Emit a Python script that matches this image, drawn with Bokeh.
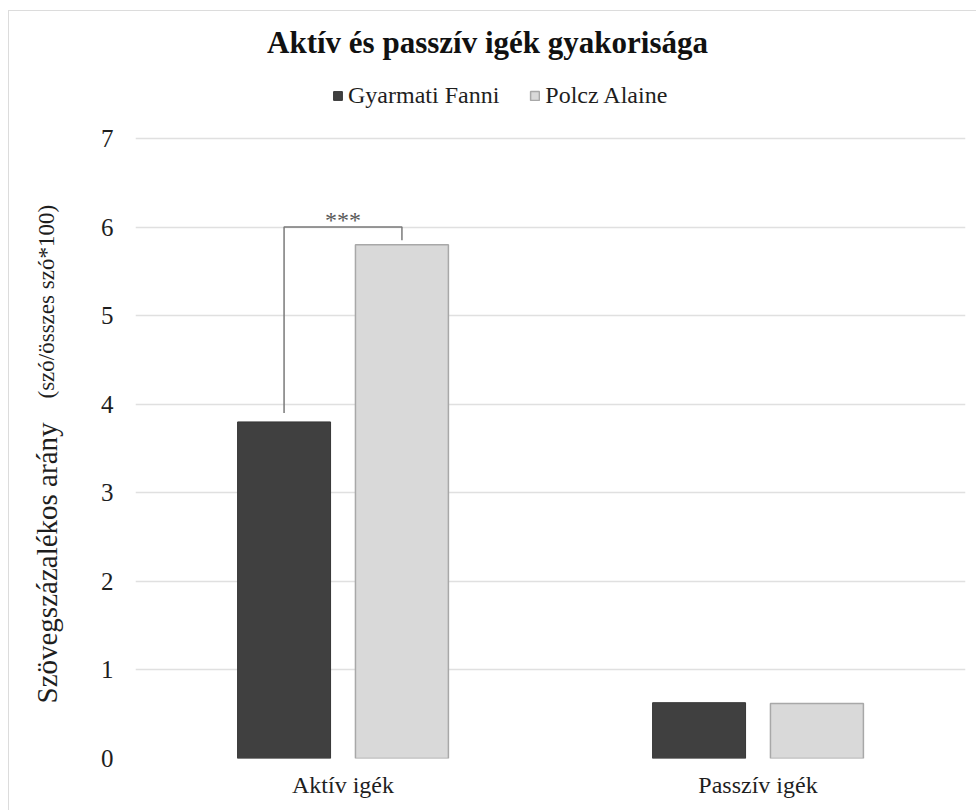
import math
from bokeh.plotting import figure
from bokeh.layouts import column, row
from bokeh.models import (ColumnDataSource, Range1d, FixedTicker, Label, Legend,
                          LegendItem, Div)
from bokeh.embed import file_html
from bokeh.resources import INLINE

# ---- data ----
categories = ["Aktív igék", "Passzív igék"]
series_names = ["Gyarmati Fanni", "Polcz Alaine"]
gyarmati = [3.8, 0.63]
polcz = [5.8, 0.62]
y_ticks = [0, 1, 2, 3, 4, 5, 6, 7]
title_text = "Aktív és passzív igék gyakorisága"
ylabel_main = "Szövegszázalékos arány"
ylabel_sub = "(szó/összes szó*100)"
sig_text = "***"
sig_bottom_left = 3.9
sig_top = 6.0
sig_bottom_right = 5.85

FONT = "Liberation Serif"
DARK = "#404040"
LIGHT = "#d9d9d9"
GRID = "#e0e0e0"
TXT = "#1e1e1e"
BORDER = "#dcdcdc"

cat_pos = [i + 0.5 for i in range(len(categories))]
offset = 0.142
bar_w = 0.224

# geometry (pixels)
MAIN_W, MAIN_H = 880, 799
PX_TOP_TICK = 127           # distance from figure top to the "7" gridline
PX_BOTTOM = 52
frame_h = MAIN_H - PX_BOTTOM
y_top = y_ticks[-1] * frame_h / (frame_h - PX_TOP_TICK)

p = figure(width=MAIN_W, height=MAIN_H, output_backend="svg", toolbar_location=None,
           x_range=Range1d(0, 2), y_range=Range1d(0, y_top),
           min_border_left=39, min_border_right=11, min_border_top=0,
           min_border_bottom=PX_BOTTOM)
p.title = None
p.outline_line_color = None
p.background_fill_color = "white"
p.border_fill_color = "white"

src_g = ColumnDataSource(dict(x=[c - offset for c in cat_pos], top=gyarmati))
src_p = ColumnDataSource(dict(x=[c + offset for c in cat_pos], top=polcz))
r_g = p.vbar(x="x", top="top", width=bar_w, source=src_g, fill_color=DARK,
             line_color="#363636", line_width=1)
r_p = p.vbar(x="x", top="top", width=bar_w, source=src_p, fill_color=LIGHT,
             line_color="#a8a8a8", line_width=1.5)

# significance bracket
xl = cat_pos[0] - offset
xr = cat_pos[0] + offset
p.line([xl, xl, xr, xr], [sig_bottom_left, sig_top, sig_top, sig_bottom_right],
       line_color="#7a7a7a", line_width=1.5)
p.add_layout(Label(x=cat_pos[0], y=sig_top + 0.08, text=sig_text, text_align="center",
                   text_baseline="alphabetic", text_font=FONT, text_font_size="24px",
                   text_color="#595959"))

# axes
p.xaxis.ticker = FixedTicker(ticks=cat_pos)
p.xaxis.major_label_overrides = {cat_pos[i]: categories[i] for i in range(len(categories))}
p.yaxis.ticker = FixedTicker(ticks=y_ticks)
for ax in (p.xaxis, p.yaxis):
    ax.axis_line_color = None
    ax.major_tick_line_color = None
    ax.minor_tick_line_color = None
    ax.major_tick_out = 0
    ax.major_tick_in = 0
    ax.minor_tick_out = 0
    ax.minor_tick_in = 0
    ax.major_label_text_font = FONT
    ax.major_label_text_font_size = "25px"
    ax.major_label_text_color = TXT
p.xaxis.major_label_text_font_size = "24px"
p.yaxis.major_label_standoff = 22
p.xaxis.major_label_standoff = 13
p.xgrid.grid_line_color = None
p.ygrid.ticker = FixedTicker(ticks=y_ticks)
p.ygrid.grid_line_color = GRID
p.ygrid.grid_line_width = 1.5

# title (inside the frame, which extends to the top of the figure)
p.add_layout(Label(x=352, y=frame_h - 31, x_units="screen", y_units="screen",
                   text=title_text, text_align="center", text_baseline="alphabetic",
                   text_font=FONT, text_font_size="31px", text_font_style="bold",
                   text_color="#111111"))

# legend
legend = Legend(items=[LegendItem(label=series_names[0], renderers=[r_g]),
                       LegendItem(label=series_names[1], renderers=[r_p])],
                orientation="horizontal", location=(197, frame_h - 98),
                glyph_width=11, glyph_height=11, label_standoff=5, spacing=30,
                padding=0, margin=0, border_line_color=None,
                background_fill_alpha=0, label_text_font=FONT,
                label_text_font_size="24px", label_text_color=TXT,
                label_height=22)
p.add_layout(legend, "center")

# y-axis title (two sizes) in a narrow side figure, frame aligned with the main one
LAB_W = 87
lab = figure(width=LAB_W, height=MAIN_H, output_backend="svg", toolbar_location=None,
             x_range=Range1d(0, LAB_W), y_range=Range1d(0, frame_h),
             x_axis_location=None, y_axis_location=None,
             min_border_left=0, min_border_right=0, min_border_top=0,
             min_border_bottom=PX_BOTTOM)
lab.title = None
lab.outline_line_color = None
lab.xgrid.visible = False
lab.ygrid.visible = False
lab.add_layout(Label(x=37, y=55, x_units="screen", y_units="screen", text=ylabel_main,
                     angle=math.pi / 2, text_align="left", text_baseline="alphabetic",
                     text_font=FONT, text_font_size="29px", text_color=TXT))
lab.add_layout(Label(x=37, y=360, x_units="screen", y_units="screen", text=ylabel_sub,
                     angle=math.pi / 2, text_align="left", text_baseline="alphabetic",
                     text_font=FONT, text_font_size="23px", text_color=TXT))

# faint outer frame of the chart (top and left border lines)
top_space = Div(text="", width=976, height=10, margin=0)
top_row = row(Div(text="", width=8, height=1, margin=0),
              Div(text="", width=968, height=1, margin=0,
                  styles={"background-color": BORDER}), spacing=0)
body = row(Div(text="", width=8, height=MAIN_H, margin=0),
           Div(text="", width=1, height=MAIN_H, margin=0,
               styles={"background-color": BORDER}),
           lab, p, spacing=0)
layout = column(top_space, top_row, body, spacing=0)

open("out.html", "w").write(file_html(layout, INLINE))
